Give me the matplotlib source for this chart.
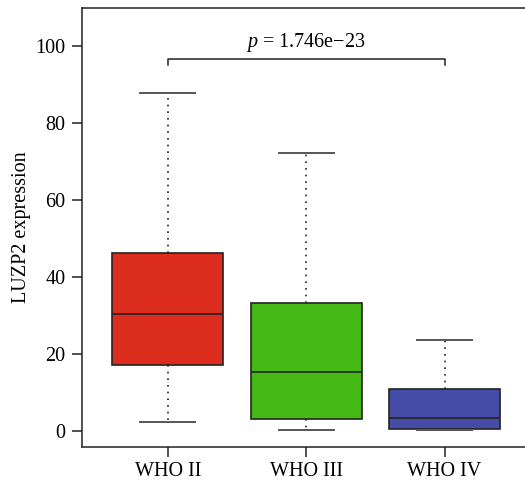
import matplotlib
matplotlib.use("Agg")
import matplotlib.pyplot as plt

# values
groups = ["WHO II", "WHO III", "WHO IV"]
whislo = [2.2, 0.1, 0.1]
q1 = [17.2, 3.2, 0.6]
med = [30.4, 15.4, 3.4]
q3 = [46.2, 33.3, 10.9]
whishi = [87.9, 72.3, 23.6]
colors = ["#DC2C1E", "#44B814", "#444CA6"]
p_text = r"$\it{p}$ = 1.746e$-$23"

plt.rcParams['font.family'] = ['Liberation Serif', 'DejaVu Serif']
plt.rcParams['mathtext.fontset'] = 'custom'
plt.rcParams['mathtext.it'] = 'Liberation Serif:italic'
plt.rcParams['mathtext.rm'] = 'Liberation Serif'

fs = 14.5

fig = plt.figure(figsize=(5.25, 4.86), dpi=100)
ax = fig.add_axes([82/525, 1-447/486, 1.005-82/525, (447-8)/486])

stats = []
for i in range(len(groups)):
    stats.append({'whislo': whislo[i], 'q1': q1[i], 'med': med[i],
                  'q3': q3[i], 'whishi': whishi[i], 'fliers': []})

bp = ax.bxp(stats, positions=[1, 2, 3], widths=0.8, patch_artist=True,
            showfliers=False,
            boxprops=dict(edgecolor='#222222', linewidth=1.2),
            medianprops=dict(color='#222222', linewidth=1.2),
            whiskerprops=dict(color='#222222', linestyle=(0, (1, 3)), linewidth=1.2),
            capprops=dict(color='#555555', linewidth=1.4),
            capwidths=0.4)
for patch, c in zip(bp['boxes'], colors):
    patch.set_facecolor(c)

# significance bracket
ax.plot([1, 1, 3, 3], [95.3, 96.8, 96.8, 95.3], color='#222222', lw=1.1)
ax.text(2, 98.0, p_text, ha='center', va='bottom', fontsize=fs)

ax.set_xlim(0.38, 3.6)
ax.set_ylim(-4.2, 110)
ax.set_yticks([0, 20, 40, 60, 80, 100])
ax.set_xticks([1, 2, 3])
ax.set_xticklabels(groups)
ax.tick_params(axis='both', direction='out', length=7, width=1.1,
               labelsize=fs, color='#222222')
ax.tick_params(axis='y', pad=5)
ax.set_ylabel("LUZP2 expression", fontsize=fs)
ax.yaxis.set_label_coords(-0.115, 0.5)
for s in ax.spines.values():
    s.set_linewidth(1.1)
    s.set_color('#222222')

fig.savefig("out.png", dpi=100)
